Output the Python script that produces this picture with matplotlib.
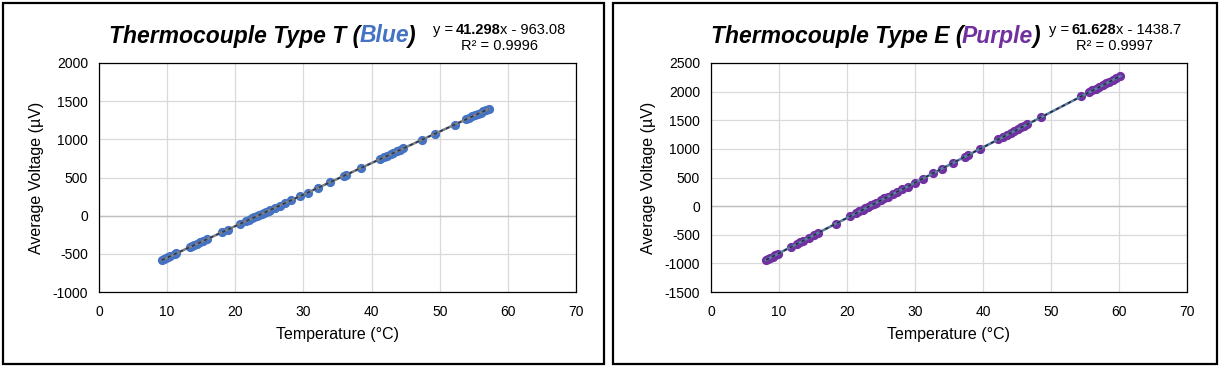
import numpy as np
import matplotlib.pyplot as plt
from matplotlib.patches import Rectangle

plt.rcParams['font.family'] = ['Liberation Sans', 'DejaVu Sans']
plt.rcParams['axes.unicode_minus'] = False

# Type T (blue) - temperature (C) and average voltage (uV)
temp_T = [9.2, 9.5, 9.8, 10.1, 10.4, 11.1, 11.3, 13.3, 13.6, 14.0, 14.4, 14.8,
          15.3, 15.8, 18.1, 18.9, 20.7, 21.6, 22.0, 22.5, 22.8, 23.2, 23.5,
          23.9, 24.2, 24.5, 24.9, 25.1, 25.8, 26.5, 27.3, 28.2, 29.5, 30.7,
          32.1, 33.9, 35.9, 36.2, 38.5, 41.3, 41.8, 42.3, 42.8, 43.2, 43.7,
          44.1, 44.6, 47.4, 49.3, 52.2, 53.9, 54.3, 54.8, 55.2, 55.6, 56.0,
          56.4, 56.8, 57.2]
volt_T = [-581, -570, -560, -545, -532, -506, -494, -412, -403, -384, -370,
          -350, -333, -309, -214, -185, -106, -73, -52, -36, -19, -6, 9, 22,
          38, 47, 67, 72, 104, 129, 166, 200, 258, 303, 365, 435, 523, 530,
          630, 741, 765, 782, 807, 819, 844, 856, 881, 992, 1075, 1190, 1265,
          1277, 1302, 1315, 1335, 1348, 1368, 1381, 1401]

# Type E (purple)
temp_E = [8.1, 8.4, 8.7, 9.1, 9.4, 9.8, 11.7, 12.6, 13.1, 13.6, 14.4, 15.2,
          15.7, 18.4, 20.5, 21.3, 21.8, 22.3, 22.7, 23.1, 23.5, 23.9, 24.2,
          25.0, 25.5, 26.1, 26.7, 27.4, 28.1, 28.9, 30.0, 31.2, 32.6, 34.0,
          35.6, 37.3, 37.8, 39.6, 42.2, 42.9, 43.5, 44.1, 44.6, 45.1, 45.6,
          46.0, 46.5, 48.6, 54.4, 55.6, 56.1, 56.6, 57.1, 57.6, 58.1, 58.6,
          59.1, 59.6, 60.2]
volt_E = [-938, -923, -901, -880, -857, -837, -716, -664, -629, -603, -549,
          -504, -469, -307, -173, -128, -93, -66, -38, -17, 12, 32, 55, 100,
          135, 168, 209, 248, 295, 340, 412, 482, 572, 655, 757, 858, 893,
          1000, 1164, 1203, 1244, 1277, 1312, 1339, 1374, 1394, 1429, 1554,
          1916, 1986, 2021, 2047, 2082, 2109, 2144, 2171, 2205, 2232, 2273]

W, H = 1220, 367
fig = plt.figure(figsize=(W / 100, H / 100), dpi=100)
renderer = fig.canvas.get_renderer()


def fx(px):
    return px / W


def fy(py):
    return 1 - py / H


def rich_text(xc, yc, parts, size):
    # parts: (text, color, weight, style, gap before in px)
    items = []
    total = 0
    for s, col, wt, st, gap in parts:
        t = fig.text(0, fy(yc), s, color=col, fontweight=wt, fontstyle=st,
                     fontsize=size, va='center', ha='left')
        w = t.get_window_extent(renderer).width
        items.append((t, w, gap))
        total += w + gap
    x = xc - total / 2
    for t, w, gap in items:
        x += gap
        t.set_x(fx(x))
        x += w


def panel(box, ax_box, temps, volts, color, line_col, dash_col, yticks,
          title_word, slope, rest, r2, title_xc, eq_xc):
    x0, x1 = box
    fig.patches.append(Rectangle((fx(x0), fy(364)), fx(x1 - x0), (361) / H,
                                 transform=fig.transFigure, fill=False,
                                 lw=1.6, ec='black'))
    l, t, r, b = ax_box
    ax = fig.add_axes([fx(l), fy(b), fx(r - l), (b - t) / H])
    ax.set_xlim(0, 70)
    ax.set_ylim(yticks[0], yticks[-1])
    ax.set_xticks(range(0, 71, 10))
    ax.set_yticks(yticks)
    ax.grid(True, color='#D9D9D9', lw=0.9)
    ax.axhline(0, color='#BFBFBF', lw=1.0, zorder=1)
    ax.set_axisbelow(True)
    for sp in ax.spines.values():
        sp.set_color('black')
        sp.set_linewidth(0.9)
    ax.tick_params(length=0, labelsize=10)
    ax.tick_params(axis='x', pad=9)
    ax.tick_params(axis='y', pad=8)
    ax.set_xlabel('Temperature (°C)', fontsize=11.5, labelpad=6)
    ax.set_ylabel('Average Voltage (µV)', fontsize=11.5, labelpad=6)

    ax.scatter(temps, volts, s=44, color=color, zorder=3, lw=0)
    m, c = np.polyfit(temps, volts, 1)
    xs = np.array([min(temps), max(temps)])
    ax.plot(xs, m * xs + c, color=line_col, lw=1.8, zorder=4)
    ax.plot(xs, m * xs + c, color=dash_col, lw=1.2, ls=(0, (2, 2)), zorder=5)

    rich_text(title_xc, 36, [
        ('Thermocouple Type ' + title_word[0] + ' (', 'black', 'bold', 'italic', 0),
        (title_word[1], color, 'bold', 'italic', -1),
        (')', 'black', 'bold', 'italic', -1.5),
    ], 16.5)
    rich_text(eq_xc, 30, [
        ('y =', 'black', 'normal', 'normal', 0),
        (slope, 'black', 'bold', 'normal', 2.5),
        ('x - ' + rest, 'black', 'normal', 'normal', -1),
    ], 10.5)
    rich_text(eq_xc, 46, [('R² = ' + r2, 'black', 'normal', 'normal', 0)], 10.5)
    return ax


panel((3, 604), (99, 63, 576, 292), temp_T, volt_T, '#4472C4', '#7F7F7F',
      '#1F3864', list(range(-1000, 2001, 500)), ('T', 'Blue'),
      '41.298', '963.08', '0.9996', 262, 499)
panel((613, 1217), (711, 63, 1187, 292), temp_E, volt_E, '#7030A0', '#5B7FA8',
      '#2A2A40', list(range(-1500, 2501, 500)), ('E', 'Purple'),
      '61.628', '1438.7', '0.9997', 875, 1115)

fig.savefig('out.png', dpi=100)
